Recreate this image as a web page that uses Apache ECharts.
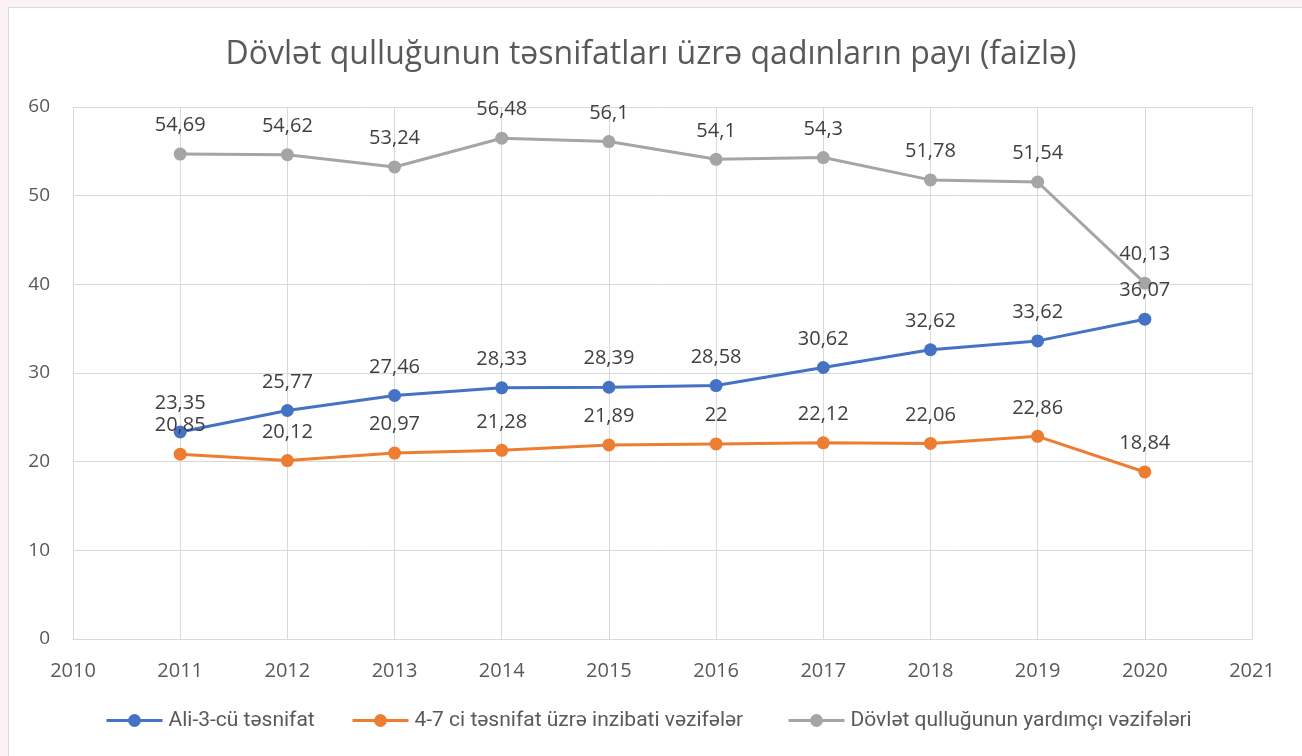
<!DOCTYPE html>
<html>
<head>
<meta charset="utf-8">
<script src="https://cdn.jsdelivr.net/npm/echarts@6/dist/echarts.min.js"></script>
<style>
  html, body { margin: 0; padding: 0; background: #fcf1f4; }
  #box { position: absolute; left: 8px; top: 7px; width: 1300px; height: 760px; background: #fff; border: 1px solid #dadada; }
  #chart { position: absolute; left: 0; top: 0; width: 1302px; height: 756px; }
</style>
</head>
<body>
<div id="box"></div>
<div id="chart"></div>
<script>
const years = [2011, 2012, 2013, 2014, 2015, 2016, 2017, 2018, 2019, 2020]
const seriesNames = ['Ali-3-cü təsnifat', '4-7 ci təsnifat üzrə inzibati vəzifələr', 'Dövlət qulluğunun yardımçı vəzifələri']
const ali3 = [23.35, 25.77, 27.46, 28.33, 28.39, 28.58, 30.62, 32.62, 33.62, 36.07]
const inzibati = [20.85, 20.12, 20.97, 21.28, 21.89, 22, 22.12, 22.06, 22.86, 18.84]
const yardimci = [54.69, 54.62, 53.24, 56.48, 56.1, 54.1, 54.3, 51.78, 51.54, 40.13]
const colors = ['#4472c4', '#ed7d31', '#a5a5a5']

const chart = echarts.init(document.getElementById('chart'))

function makeSeries(name, values, color) {
  return {
    name: name,
    type: 'line',
    data: years.map((y, i) => [y, values[i]]),
    symbol: 'circle',
    symbolSize: 13,
    itemStyle: { color: color },
    lineStyle: { color: color, width: 3 },
    label: {
      show: true,
      position: 'top',
      distance: 12,
      color: '#404040',
      fontSize: 20,
      fontFamily: 'Open Sans',
      formatter: p => String(p.value[1]).replace('.', ',')
    },
    emphasis: { disabled: true },
    z: 3
  }
}

// one legend per item so each can sit where it does in the picture
const legendLeft = [100, 346, 782]
const legends = seriesNames.map((n, i) => ({
  data: [n],
  left: legendLeft[i],
  bottom: 20,
  itemWidth: 56,
  itemHeight: 16,
  itemGap: 0,
  lineStyle: { width: 3 },
  textStyle: { fontFamily: 'Roboto', fontSize: 21, color: '#595959', padding: [0, 0, 0, 1] }
}))

chart.setOption({
  animation: false,
  backgroundColor: 'transparent',
  title: {
    text: 'Dövlət qulluğunun təsnifatları üzrə qadınların payı (faizlə)',
    left: 'center',
    top: 34,
    textStyle: { fontFamily: 'Open Sans', fontSize: 32, fontWeight: 'normal', color: '#595959' }
  },
  legend: legends,
  grid: { left: 73, right: 50, top: 107, bottom: 117 },
  xAxis: {
    type: 'value',
    min: 2010,
    max: 2021,
    interval: 1,
    axisLine: { show: true, lineStyle: { color: '#d9d9d9', width: 1 } },
    axisTick: { show: false },
    axisLabel: { color: '#595959', fontSize: 20, fontFamily: 'Open Sans', margin: 22, formatter: v => String(v) },
    splitLine: { show: true, lineStyle: { color: '#d9d9d9', width: 1 } }
  },
  yAxis: {
    type: 'value',
    min: 0,
    max: 60,
    interval: 10,
    axisLine: { show: false },
    axisTick: { show: false },
    axisLabel: { color: '#595959', fontSize: 19, fontFamily: 'Open Sans', margin: 23 },
    splitLine: { show: true, lineStyle: { color: '#d9d9d9', width: 1 } }
  },
  series: [
    makeSeries(seriesNames[0], ali3, colors[0]),
    makeSeries(seriesNames[1], inzibati, colors[1]),
    makeSeries(seriesNames[2], yardimci, colors[2])
  ]
})
</script>
</body>
</html>
